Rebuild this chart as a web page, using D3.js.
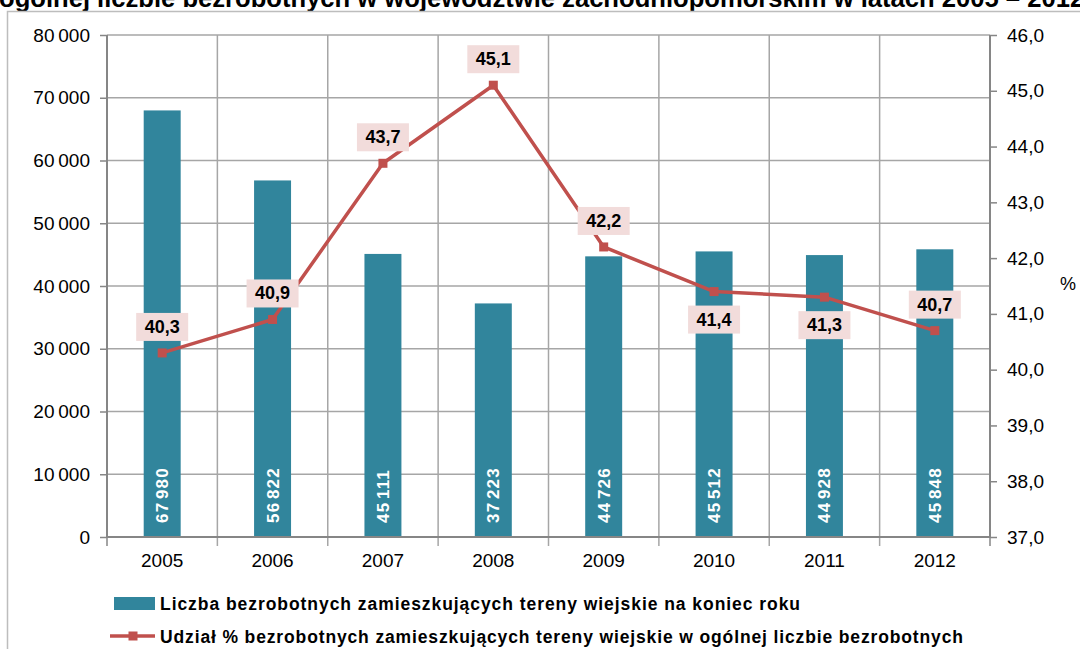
<!DOCTYPE html>
<html>
<head>
<meta charset="utf-8">
<script src="https://cdn.jsdelivr.net/npm/d3@7"></script>
<style>
  body { margin: 0; background: #fff; }
  svg { display: block; font-family: "Liberation Sans", Arial, sans-serif; }
</style>
</head>
<body>
<svg id="chart" width="1080" height="649"></svg>
<script>
// data
var years = ["2005", "2006", "2007", "2008", "2009", "2010", "2011", "2012"];
var unemployed = [67980, 56822, 45111, 37223, 44726, 45512, 44928, 45848];
var share = [40.3, 40.9, 43.7, 45.1, 42.2, 41.4, 41.3, 40.7];
var labelBelow = [false, false, false, false, false, true, true, false];
var leftTicks = [0, 10000, 20000, 30000, 40000, 50000, 60000, 70000, 80000];
var rightTicks = [37, 38, 39, 40, 41, 42, 43, 44, 45, 46];

var svg = d3.select("#chart");
var plotL = 107, plotR = 990, plotT = 35, plotB = 537;

var x = d3.scaleBand().domain(years).range([plotL, plotR]).paddingInner(0.665).paddingOuter(0.3325);
var xb = d3.scaleBand().domain(years).range([plotL, plotR]);
var y = d3.scaleLinear().domain([0, 80000]).range([plotB, plotT]);
var y2 = d3.scaleLinear().domain([37, 46]).range([plotB, plotT]);

var fmtThousands = function(v) {
  return v >= 1000 ? d3.format(",")(v).replace(/,/g, "\u2009") : String(v);
};
var fmtThousandsBar = function(v) { return d3.format(",")(v).replace(/,/g, "\u200a"); };
var fmtPct = function(v) { return d3.format(".1f")(v).replace(".", ","); };

// title (cut off at top)
svg.append("text")
  .attr("x", -1).attr("y", 7)
  .attr("font-size", 25.6).attr("font-weight", "bold")
  .attr("fill", "#000")
  .text("ogólnej liczbie bezrobotnych w województwie zachodniopomorskim w latach 2005 – 2012");

// outer frame
svg.append("path")
  .attr("d", "M7.5,649 L7.5,11.5 L1080,11.5")
  .attr("fill", "none").attr("stroke", "#bdbdbd").attr("stroke-width", 1.5);

// horizontal gridlines
svg.append("g").selectAll("line").data(leftTicks.slice(1)).join("line")
  .attr("x1", plotL).attr("x2", plotR)
  .attr("y1", function(d) { return y(d); }).attr("y2", function(d) { return y(d); })
  .attr("stroke", "#a6a6a6").attr("stroke-width", 1.5);

// vertical gridlines at category boundaries
svg.append("g").selectAll("line").data(years.slice(1)).join("line")
  .attr("x1", function(d) { return xb(d); }).attr("x2", function(d) { return xb(d); })
  .attr("y1", plotT).attr("y2", plotB + 9)
  .attr("stroke", "#a6a6a6").attr("stroke-width", 1.5);

// bars
svg.append("g").selectAll("rect").data(unemployed).join("rect")
  .attr("x", function(d, i) { return x(years[i]); })
  .attr("width", x.bandwidth())
  .attr("y", function(d) { return y(d); })
  .attr("height", function(d) { return plotB - y(d); })
  .attr("fill", "#31859c");

// bar value labels
svg.append("g").selectAll("text").data(unemployed).join("text")
  .attr("transform", function(d, i) {
    return "translate(" + (x(years[i]) + x.bandwidth() / 2 + 6) + "," + (plotB - 14) + ") rotate(-90)";
  })
  .attr("font-size", 17).attr("font-weight", "bold").attr("fill", "#fff")
  .attr("letter-spacing", 1.2)
  .text(function(d) { return fmtThousandsBar(d); });

// left axis
var axL = svg.append("g").attr("transform", "translate(" + plotL + ",0)")
  .call(d3.axisLeft(y).tickValues(leftTicks).tickSize(7).tickPadding(10).tickFormat(fmtThousands));
axL.select(".domain").attr("stroke", "#868686").attr("stroke-width", 2).attr("d", "M0," + plotT + "V" + plotB);
axL.selectAll(".tick line").attr("stroke", "#868686").attr("stroke-width", 1.5);
axL.selectAll(".tick text").attr("font-size", 19).attr("fill", "#000").attr("font-family", "Liberation Sans, Arial, sans-serif");

// right axis
var axR = svg.append("g").attr("transform", "translate(" + plotR + ",0)")
  .call(d3.axisRight(y2).tickValues(rightTicks).tickSize(7).tickPadding(10).tickFormat(fmtPct));
axR.select(".domain").attr("stroke", "#868686").attr("stroke-width", 2).attr("d", "M0," + plotT + "V" + plotB);
axR.selectAll(".tick line").attr("stroke", "#868686").attr("stroke-width", 1.5);
axR.selectAll(".tick text").attr("font-size", 19).attr("fill", "#000").attr("font-family", "Liberation Sans, Arial, sans-serif");

svg.append("text").attr("x", 1060).attr("y", 290)
  .attr("font-size", 18).attr("fill", "#000").text("%");

// bottom axis
var axB = svg.append("g").attr("transform", "translate(0," + plotB + ")")
  .call(d3.axisBottom(xb).tickSize(0).tickPadding(17));
axB.select(".domain").attr("stroke", "#868686").attr("stroke-width", 2).attr("d", "M" + plotL + ",0H" + plotR);
axB.selectAll(".tick text").attr("font-size", 19).attr("fill", "#000").attr("font-family", "Liberation Sans, Arial, sans-serif");
svg.append("g").selectAll("line").data([plotL, plotR]).join("line")
  .attr("x1", function(d) { return d; }).attr("x2", function(d) { return d; })
  .attr("y1", plotB).attr("y2", plotB + 9)
  .attr("stroke", "#868686").attr("stroke-width", 1.5);

// line series
var cx = function(i) { return xb(years[i]) + xb.bandwidth() / 2; };
var line = d3.line().x(function(d, i) { return cx(i); }).y(function(d) { return y2(d); });
svg.append("path").datum(share)
  .attr("d", line)
  .attr("fill", "none").attr("stroke", "#c0504d").attr("stroke-width", 3.5)
  .attr("stroke-linejoin", "round");

svg.append("g").selectAll("rect").data(share).join("rect")
  .attr("x", function(d, i) { return cx(i) - 4.5; })
  .attr("y", function(d) { return y2(d) - 4.5; })
  .attr("width", 9).attr("height", 9)
  .attr("fill", "#c0504d");

// line labels
var lbl = svg.append("g").selectAll("g").data(share).join("g")
  .attr("transform", function(d, i) {
    var off = labelBelow[i] ? 28 : -26;
    return "translate(" + cx(i) + "," + (y2(d) + off) + ")";
  });
lbl.append("rect")
  .attr("x", -26).attr("y", -14).attr("width", 52).attr("height", 28)
  .attr("fill", "#f2dcdb");
lbl.append("text")
  .attr("text-anchor", "middle").attr("y", 6)
  .attr("font-size", 18).attr("font-weight", "bold").attr("fill", "#000")
  .text(function(d) { return fmtPct(d); });

// legend
var legend = svg.append("g");
legend.append("rect").attr("x", 114).attr("y", 597).attr("width", 41).attr("height", 13).attr("fill", "#31859c");
legend.append("text").attr("x", 160).attr("y", 610)
  .attr("font-size", 17.5).attr("font-weight", "bold").attr("fill", "#000")
  .attr("textLength", 640).attr("lengthAdjust", "spacing")
  .text("Liczba bezrobotnych  zamieszkujących tereny wiejskie na koniec roku");
legend.append("line").attr("x1", 110).attr("x2", 155).attr("y1", 636).attr("y2", 636)
  .attr("stroke", "#c0504d").attr("stroke-width", 3.5);
legend.append("rect").attr("x", 128.5).attr("y", 631.5).attr("width", 9).attr("height", 9).attr("fill", "#c0504d");
legend.append("text").attr("x", 160).attr("y", 643)
  .attr("font-size", 17.5).attr("font-weight", "bold").attr("fill", "#000")
  .attr("textLength", 803).attr("lengthAdjust", "spacing")
  .text("Udział % bezrobotnych  zamieszkujących tereny wiejskie w ogólnej liczbie bezrobotnych");
</script>
</body>
</html>
